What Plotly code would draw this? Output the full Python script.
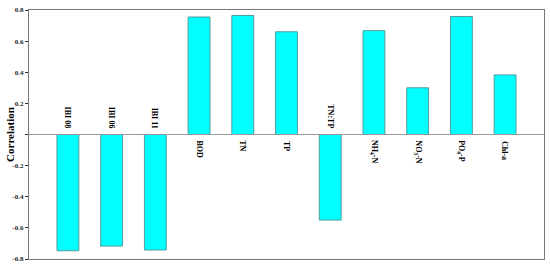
import plotly.graph_objects as go

# variables and their correlation values
labels = ["IBI 08", "IBI 06", "IBI 11", "BOD", "TN", "TP", "TN:TP",
          "NH<sub>4</sub>-N", "NO<sub>3</sub>-N", "PO<sub>4</sub>-P", "Chl-a"]
corr = [-0.747, -0.717, -0.742, 0.755, 0.765, 0.66, -0.55, 0.667, 0.30, 0.758, 0.383]

tick_vals = [0.8, 0.6, 0.4, 0.2, 0, -0.2, -0.4, -0.6, -0.8]
tick_text = ["0.8", "0.6", "0.4", "0.2", "", "-0.2", "-0.4", "-0.6", "-0.8"]

serif = "Liberation Serif"
xs = list(range(len(labels)))

fig = go.Figure()
fig.add_trace(go.Bar(
    x=xs, y=corr, width=0.5,
    marker=dict(color="#00ffff", line=dict(color="#4f9c9c", width=1)),
))

# category names sit next to the zero line, on the opposite side of the bar
for x, lab, v in zip(xs, labels, corr):
    neg = v < 0
    fig.add_annotation(
        x=x, y=0, text=lab, showarrow=False, textangle=90,
        yanchor="bottom" if neg else "top",
        yshift=4 if neg else -4,
        font=dict(family=serif, size=8, color="black", weight="bold"),
    )

fig.add_annotation(
    xref="paper", yref="paper", x=-0.038, y=0.5, text="Correlation",
    showarrow=False, textangle=-90, xanchor="center", yanchor="middle",
    font=dict(family=serif, size=11, color="black", weight="bold"),
)

fig.add_hline(y=0, line=dict(color="#9a9a9a", width=1.2))

fig.update_layout(
    width=550, height=268,
    margin=dict(l=29, r=5, t=10, b=7),
    plot_bgcolor="white", paper_bgcolor="white",
    showlegend=False,
    xaxis=dict(range=[-0.89, 10.89], showticklabels=False, ticks="",
               showgrid=False, zeroline=False,
               showline=True, mirror=True, linecolor="#777777", linewidth=1.3),
    yaxis=dict(range=[-0.8, 0.8], tickvals=tick_vals, ticktext=tick_text,
               ticks="outside", ticklen=3, tickcolor="#333", tickwidth=1,
               tickfont=dict(family=serif, size=7, color="#222", weight="bold"),
               showgrid=False, zeroline=False,
               showline=True, mirror=True, linecolor="#777777", linewidth=1.3),
)

# the page's default body margin pushes the chart out of the window
fig.write_html("out.html", config={"displayModeBar": False},
               post_script="document.body.style.margin='0';document.body.style.overflow='hidden';")
